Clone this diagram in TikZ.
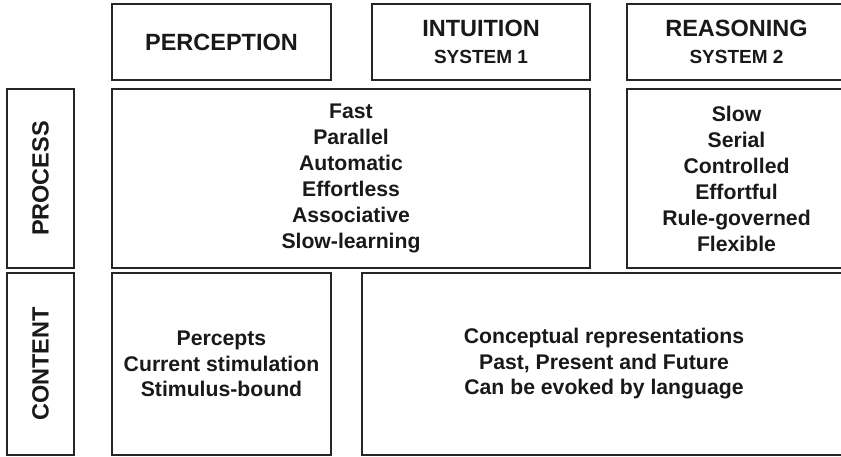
\documentclass[tikz,border=0pt]{standalone}
\usepackage{fontspec}
\setmainfont{Liberation Sans}
\usetikzlibrary{positioning}

\begin{document}
\begin{tikzpicture}[
                x=1pt, y=-1pt,
                box/.style={rectangle, draw=black!85, line width=1.3pt, text=black!90, align=center, inner sep=0pt},
                head/.style={box, font=\fontsize{23.5}{26}\selectfont\bfseries},
                body/.style={box, font=\fontsize{21.2}{26}\selectfont\bfseries},
                sidelabel/.style={text=black!90, inner sep=0pt, rotate=90, font=\fontsize{23.5}{26}\selectfont\bfseries}
            ]
            \useasboundingbox (0,0) rectangle (841,457);

            % Top row - column headings
            \node[head, minimum width=219, minimum height=76] (perc) at (221.5,42) {PERCEPTION};
            \node[head, minimum width=218, minimum height=76] (intu) at (481,42) {INTUITION\\[1pt]{\fontsize{19}{20}\selectfont SYSTEM 1}};
            \node[head, minimum width=219, minimum height=76] (reas) at (736.5,42) {REASONING\\[1pt]{\fontsize{19}{20}\selectfont SYSTEM 2}};

            % Middle row - process
            \node[box, minimum width=67, minimum height=179] (proc) at (40.5,178.5) {};
            \node[sidelabel] (proclabel) at (proc.center) {PROCESS};
            \node[body, minimum width=478, minimum height=179] (sysone) at (351,178.5) {Fast\\Parallel\\Automatic\\Effortless\\Associative\\Slow-learning};
            \node[body, minimum width=219, minimum height=179] (systwo) at (736.5,178.5) {Slow\\Serial\\Controlled\\Effortful\\Rule-governed\\Flexible};

            % Bottom row - content
            \node[box, minimum width=67, minimum height=182] (cont) at (40.5,364) {};
            \node[sidelabel] (contlabel) at (cont.center) {CONTENT};
            \node[body, minimum width=219, minimum height=182, font=\fontsize{21.2}{25.5}\selectfont\bfseries] (percepts) at (221.5,364) {Percepts\\Current stimulation\\Stimulus-bound};
            \node[body, minimum width=484, minimum height=182, font=\fontsize{21.2}{25.5}\selectfont\bfseries] (concepts) at (604,364) {Conceptual representations\\Past, Present and Future\\Can be evoked by language};
            \end{tikzpicture}
\end{document}
